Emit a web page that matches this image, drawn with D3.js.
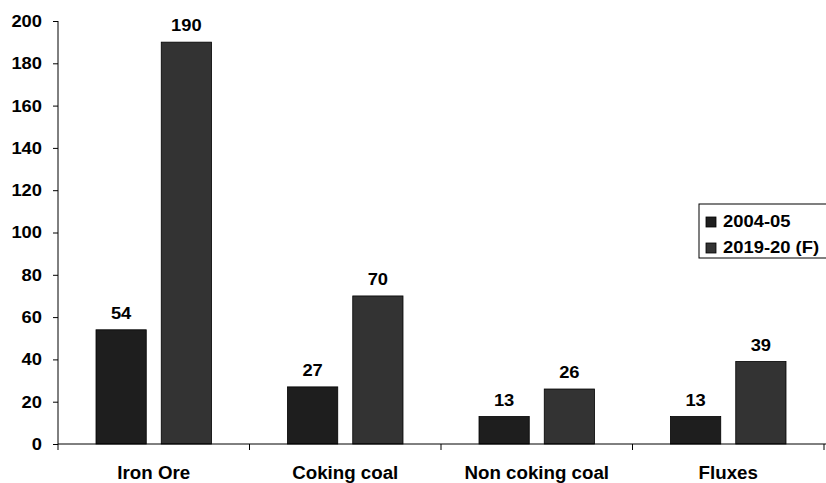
<!DOCTYPE html>
<html>
<head>
<meta charset="utf-8">
<script src="https://cdn.jsdelivr.net/npm/d3@7/dist/d3.min.js"></script>
<style>
  html, body { margin: 0; padding: 0; background: #fff; }
  svg { display: block; font-family: "Liberation Sans", Arial, sans-serif; font-weight: bold; }
</style>
</head>
<body>
<svg id="chart" width="826" height="483"></svg>
<script>
// Raw materials requirement (million tonnes)
const categories = ["Iron Ore", "Coking coal", "Non coking coal", "Fluxes"];
const seriesNames = ["2004-05", "2019-20 (F)"];
const values2004 = [54, 27, 13, 13];
const values2019 = [190, 70, 26, 39];
const yTicks = [0, 20, 40, 60, 80, 100, 120, 140, 160, 180, 200];
const seriesColors = ["#1e1e1e", "#333333"];

const svg = d3.select("#chart");
const plot = { left: 58, right: 824, top: 21, bottom: 444 };
const FONT = "Liberation Sans, Arial, sans-serif";

const x0 = d3.scaleBand().domain(categories).range([plot.left, plot.right]).paddingInner(0).paddingOuter(0);
const x1 = d3.scaleBand().domain(seriesNames).range([38, x0.bandwidth() - 38]).paddingInner(0.23);
const y = d3.scaleLinear().domain([0, 200]).range([plot.bottom, plot.top]);

const rows = categories.map((c, i) => ({ cat: c, vals: [values2004[i], values2019[i]] }));

// bars
const groups = svg.append("g").selectAll("g").data(rows).join("g")
  .attr("transform", d => `translate(${x0(d.cat)},0)`);

groups.selectAll("rect").data(d => d.vals.map((v, j) => ({ v, s: seriesNames[j], j })))
  .join("rect")
  .attr("x", d => x1(d.s))
  .attr("y", d => y(d.v))
  .attr("width", x1.bandwidth())
  .attr("height", d => y(0) - y(d.v))
  .attr("fill", d => seriesColors[d.j])
  .attr("stroke", "#000")
  .attr("stroke-width", 0.8);

// value labels (slightly widened glyphs)
groups.selectAll("text").data(d => d.vals.map((v, j) => ({ v, s: seriesNames[j] })))
  .join("text")
  .attr("transform", d => `translate(${x1(d.s) + x1.bandwidth() / 2},${y(d.v) - 11}) scale(1.08,1)`)
  .attr("text-anchor", "middle")
  .attr("font-size", 17)
  .attr("fill", "#000")
  .text(d => d.v);

// y axis
const yAxis = svg.append("g")
  .attr("transform", `translate(${plot.left},0)`)
  .call(d3.axisLeft(y).tickValues(yTicks).tickSize(5).tickPadding(11));
yAxis.select(".domain").attr("stroke", "#000").attr("d", `M0,${plot.top}V${plot.bottom}`);
yAxis.selectAll("text")
  .attr("font-size", 17).attr("font-family", FONT).attr("font-weight", "bold").attr("fill", "#000")
  .attr("transform", "translate(-16,0) scale(1.08,1) translate(16,0)");
yAxis.selectAll("line").attr("stroke", "#000");

// x axis with category boundary ticks
const xAxisG = svg.append("g").attr("transform", `translate(0,${plot.bottom})`);
xAxisG.append("line").attr("x1", plot.left).attr("x2", plot.right + 2).attr("y1", 0).attr("y2", 0).attr("stroke", "#000");
const bounds = categories.map(c => x0(c)).concat([plot.right]);
xAxisG.selectAll("line.tick").data(bounds).join("line")
  .attr("class", "tick")
  .attr("x1", d => d).attr("x2", d => d)
  .attr("y1", 0).attr("y2", 6)
  .attr("stroke", "#000");
xAxisG.selectAll("text").data(categories).join("text")
  .attr("transform", d => `translate(${x0(d) + x0.bandwidth() / 2},35) scale(1.04,1)`)
  .attr("text-anchor", "middle")
  .attr("font-size", 18)
  .attr("fill", "#000")
  .text(d => d);

// legend
const legend = svg.append("g").attr("transform", "translate(699,204)");
legend.append("rect").attr("x", 0).attr("y", 0).attr("width", 140).attr("height", 54)
  .attr("fill", "#fff").attr("stroke", "#000").attr("stroke-width", 1);
seriesNames.forEach((name, i) => {
  const gy = 18 + i * 26;
  legend.append("rect").attr("x", 7).attr("y", gy - 5).attr("width", 10).attr("height", 10)
    .attr("fill", seriesColors[i]).attr("stroke", "#000").attr("stroke-width", 0.8);
  legend.append("text")
    .attr("transform", `translate(24,${gy + 5}) scale(1.15,1)`)
    .attr("font-size", 16).attr("fill", "#000").text(name);
});
</script>
</body>
</html>
